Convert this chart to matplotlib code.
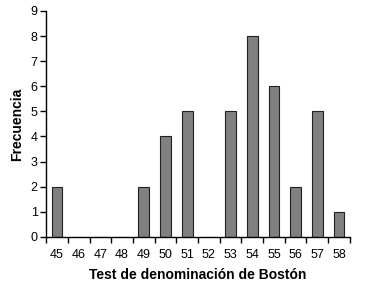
import matplotlib.pyplot as plt
import numpy as np

plt.rcParams['font.family'] = ['Liberation Sans', 'DejaVu Sans']

scores = [45, 46, 47, 48, 49, 50, 51, 52, 53, 54, 55, 56, 57, 58]
freq = [2, 0, 0, 0, 2, 4, 5, 0, 5, 8, 6, 2, 5, 1]

fig = plt.figure(figsize=(3.75, 2.81), dpi=100)
ax = fig.add_axes([0.123, 0.157, 0.81, 0.804])

x = np.arange(len(scores))
ax.bar(x, freq, width=0.5, color='#808080', edgecolor='#222222', linewidth=0.8)

ax.set_xlim(-0.5, len(scores) - 0.5)
ax.set_ylim(0, 9)
ax.set_yticks(range(0, 10))

# tick marks at category boundaries, labels centred
ax.set_xticks(np.arange(len(scores) + 1) - 0.5)
ax.set_xticklabels([])
ax.set_xticks(x, minor=True)
ax.set_xticklabels([str(s) for s in scores], minor=True)
ax.tick_params(axis='x', which='minor', length=0, labelsize=9, pad=9)
ax.tick_params(axis='x', which='major', length=4, width=1, direction='out')
ax.tick_params(axis='y', length=4, width=1, labelsize=9, pad=2)

ax.spines['top'].set_visible(False)
ax.spines['right'].set_visible(False)
ax.spines['left'].set_linewidth(1)
ax.spines['bottom'].set_linewidth(1)

ax.set_xlabel('Test de denominación de Bostón', fontsize=10, fontweight='bold', labelpad=5)
ax.set_ylabel('Frecuencia', fontsize=10, fontweight='bold', labelpad=5)

fig.savefig('out.png', dpi=100)
